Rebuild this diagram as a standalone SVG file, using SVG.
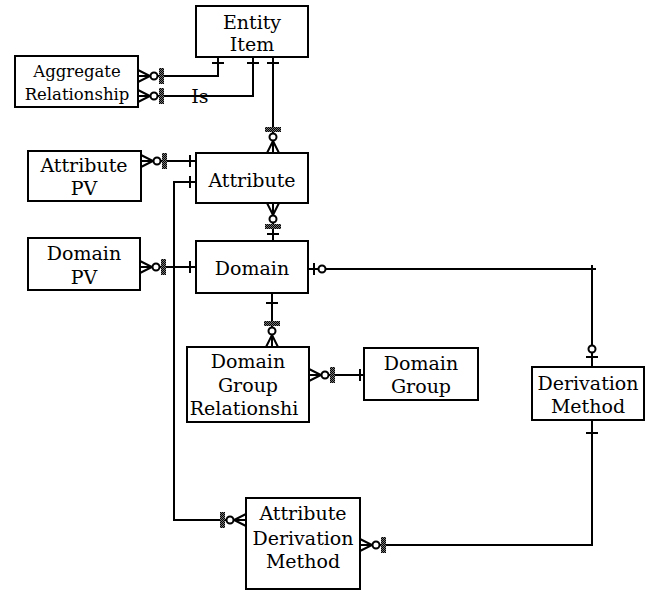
<svg xmlns="http://www.w3.org/2000/svg" xmlns:xlink="http://www.w3.org/1999/xlink" width="656" height="591" viewBox="0 0 656 591">
<style>
.box{fill:#fff;stroke:#000;stroke-width:2}
.t{font-family:"DejaVu Serif","Liberation Serif",serif;font-size:19px;text-anchor:middle;fill:#000}
.ts{font-size:16.5px}
.ln{fill:none;stroke:#000;stroke-width:2}
</style>
<defs>
<pattern id="hatch" width="2" height="2" patternUnits="userSpaceOnUse">
<rect width="2" height="2" fill="#777"/>
<rect width="1" height="1" fill="#000"/>
<rect x="1" y="1" width="1" height="1" fill="#000"/>
</pattern>
<g id="crowO">
<path d="M0,-6 L12,0 L0,6" fill="none" stroke="#000" stroke-width="2"/>
<circle cx="16" cy="0" r="3.5" fill="#fff" stroke="#000" stroke-width="2"/>
<rect x="21" y="-8" width="5" height="16" fill="url(#hatch)"/>
</g>
<line id="tick" x1="0" y1="-6" x2="0" y2="6" stroke="#000" stroke-width="2"/>
</defs>

<g id="connectors">
<path class="ln" d="M138,76 H218 V57"/>
<path class="ln" d="M138,96 H253 V57"/>
<path class="ln" d="M273,57 V153"/>
<path class="ln" d="M141,161 H196"/>
<path class="ln" d="M196,182 H174 V520 H246"/>
<path class="ln" d="M273,203 V241"/>
<path class="ln" d="M140,267 H196"/>
<path class="ln" d="M308,269 H596 M592,265 V367"/>
<path class="ln" d="M592,420 V545 H360"/>
<path class="ln" d="M272,293 V347"/>
<path class="ln" d="M309,375 H364"/>

<use xlink:href="#crowO" transform="translate(138,76)"/>
<use xlink:href="#crowO" transform="translate(138,96)"/>
<use xlink:href="#tick" transform="translate(218,63) rotate(90)"/>
<use xlink:href="#tick" transform="translate(253,63) rotate(90)"/>
<use xlink:href="#tick" transform="translate(273,63) rotate(90)"/>
<use xlink:href="#crowO" transform="translate(273,153) rotate(-90)"/>
<use xlink:href="#crowO" transform="translate(141,161)"/>
<use xlink:href="#tick" transform="translate(190,161)"/>
<use xlink:href="#tick" transform="translate(190,182)"/>
<use xlink:href="#crowO" transform="translate(246,520) rotate(180)"/>
<use xlink:href="#crowO" transform="translate(273,203) rotate(90)"/>
<use xlink:href="#tick" transform="translate(273,234) rotate(90)"/>
<use xlink:href="#crowO" transform="translate(140,267)"/>
<use xlink:href="#tick" transform="translate(190,267)"/>
<use xlink:href="#tick" transform="translate(314,269)"/>
<circle cx="322" cy="269" r="3.5" fill="#fff" stroke="#000" stroke-width="2"/>
<circle cx="592" cy="349" r="3.5" fill="#fff" stroke="#000" stroke-width="2"/>
<use xlink:href="#tick" transform="translate(592,357) rotate(90)"/>
<use xlink:href="#tick" transform="translate(592,433) rotate(90)"/>
<use xlink:href="#crowO" transform="translate(360,545)"/>
<use xlink:href="#tick" transform="translate(272,303) rotate(90)"/>
<use xlink:href="#crowO" transform="translate(272,347) rotate(-90)"/>
<use xlink:href="#crowO" transform="translate(309,375)"/>
<use xlink:href="#tick" transform="translate(360,375)"/>
<text class="t" x="200" y="103">Is</text>
</g>

<g id="entity-item">
<rect class="box" x="196" y="6" width="112" height="51"/>
<text class="t" x="252" y="29">Entity</text>
<text class="t" x="252" y="51">Item</text>
</g>
<g id="aggregate-relationship">
<rect class="box" x="15" y="56" width="123" height="51"/>
<text class="t ts" x="77" y="77">Aggregate</text>
<text class="t ts" x="77" y="100">Relationship</text>
</g>
<g id="attribute-pv">
<rect class="box" x="28" y="151" width="113" height="50"/>
<text class="t" x="84" y="172">Attribute</text>
<text class="t" x="84" y="195">PV</text>
</g>
<g id="attribute">
<rect class="box" x="196" y="153" width="112" height="50"/>
<text class="t" x="252" y="187">Attribute</text>
</g>
<g id="domain-pv">
<rect class="box" x="28" y="238" width="112" height="52"/>
<text class="t" x="84" y="260">Domain</text>
<text class="t" x="84" y="284">PV</text>
</g>
<g id="domain">
<rect class="box" x="196" y="241" width="112" height="52"/>
<text class="t" x="252" y="275">Domain</text>
</g>
<g id="domain-group-relationship">
<rect class="box" x="187" y="347" width="122" height="75"/>
<text class="t" x="248" y="368">Domain</text>
<text class="t" x="248" y="392">Group</text>
<text class="t" x="244" y="415">Relationshi</text>
</g>
<g id="domain-group">
<rect class="box" x="364" y="348" width="114" height="52"/>
<text class="t" x="421" y="370">Domain</text>
<text class="t" x="421" y="393">Group</text>
</g>
<g id="derivation-method">
<rect class="box" x="532" y="367" width="112" height="53"/>
<text class="t" x="588" y="390">Derivation</text>
<text class="t" x="588" y="413">Method</text>
</g>
<g id="attribute-derivation-method">
<rect class="box" x="246" y="498" width="114" height="91"/>
<text class="t" x="303" y="520">Attribute</text>
<text class="t" x="303" y="545">Derivation</text>
<text class="t" x="303" y="568">Method</text>
</g>
</svg>
